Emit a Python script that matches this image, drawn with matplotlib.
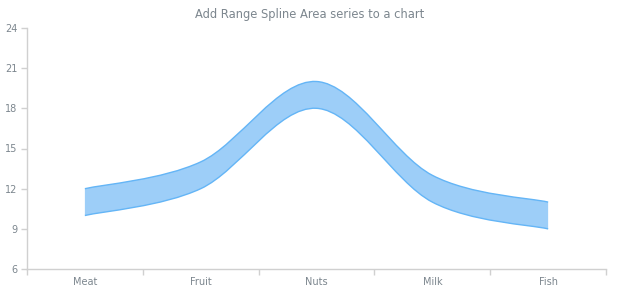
import matplotlib
matplotlib.use('Agg')
import matplotlib.pyplot as plt
import numpy as np
from matplotlib.path import Path
import matplotlib.patches as patches

categories = ['Meat', 'Fruit', 'Nuts', 'Milk', 'Fish']
low_values = [10, 12, 18, 11, 9]
high_values = [12, 14, 20, 13, 11]
y_ticks = [6, 9, 12, 15, 18, 21, 24]

TEXT = '#7c868e'
AXIS = '#d0d0d0'


def spline_segments(xs, ys):
    # catmull-rom style bezier control points through the data points
    pts = np.column_stack([xs, ys]).astype(float)
    ext = np.vstack([pts[0], pts, pts[-1]])
    verts = [tuple(pts[0])]
    for i in range(len(pts) - 1):
        p0, p1, p2, p3 = ext[i], ext[i + 1], ext[i + 2], ext[i + 3]
        c1 = p1 + (p2 - p0) / 6
        c2 = p2 - (p3 - p1) / 6
        verts += [tuple(c1), tuple(c2), tuple(p2)]
    return verts


x = np.arange(len(categories))
upper = spline_segments(x, high_values)
lower = spline_segments(x[::-1], low_values[::-1])

verts = upper + [lower[0]] + lower[1:] + [upper[0]]
codes = ([Path.MOVETO] + [Path.CURVE4] * (len(upper) - 1)
         + [Path.LINETO] + [Path.CURVE4] * (len(lower) - 1)
         + [Path.CLOSEPOLY])

fig = plt.figure(figsize=(6.2, 3.0), dpi=100)
ax = fig.add_axes([0.0435, 0.103, 0.934, 0.804])

ax.add_patch(patches.PathPatch(Path(verts, codes), facecolor='#9dcef8',
                               edgecolor='none', zorder=2))
ax.add_patch(patches.PathPatch(Path(upper, [Path.MOVETO] + [Path.CURVE4] * (len(upper) - 1)),
                               facecolor='none', edgecolor='#64b5f6', lw=1.0, zorder=3))
ax.add_patch(patches.PathPatch(Path(lower, [Path.MOVETO] + [Path.CURVE4] * (len(lower) - 1)),
                               facecolor='none', edgecolor='#64b5f6', lw=1.0, zorder=3))

ax.set_xlim(-0.5, len(categories) - 0.5)
ax.set_ylim(6, 24)
ax.set_yticks(y_ticks)
ax.set_yticklabels([str(v) for v in y_ticks])
ax.set_xticks(x)
ax.set_xticklabels(categories)
ax.set_xticks(np.arange(len(categories) + 1) - 0.5, minor=True)
ax.tick_params(axis='x', which='major', length=0, pad=6, labelsize=7, labelcolor=TEXT)
ax.tick_params(axis='x', which='minor', length=4, color=AXIS, width=1)
ax.tick_params(axis='y', length=4, color=AXIS, width=1, pad=3, labelsize=7, labelcolor=TEXT)

for side in ['top', 'right']:
    ax.spines[side].set_visible(False)
for side in ['left', 'bottom']:
    ax.spines[side].set_color(AXIS)
    ax.spines[side].set_linewidth(1)

fig.text(0.5, 0.952, 'Add Range Spline Area series to a chart', ha='center', va='center',
         fontsize=8.3, color=TEXT)

fig.savefig('out.png', dpi=100)
